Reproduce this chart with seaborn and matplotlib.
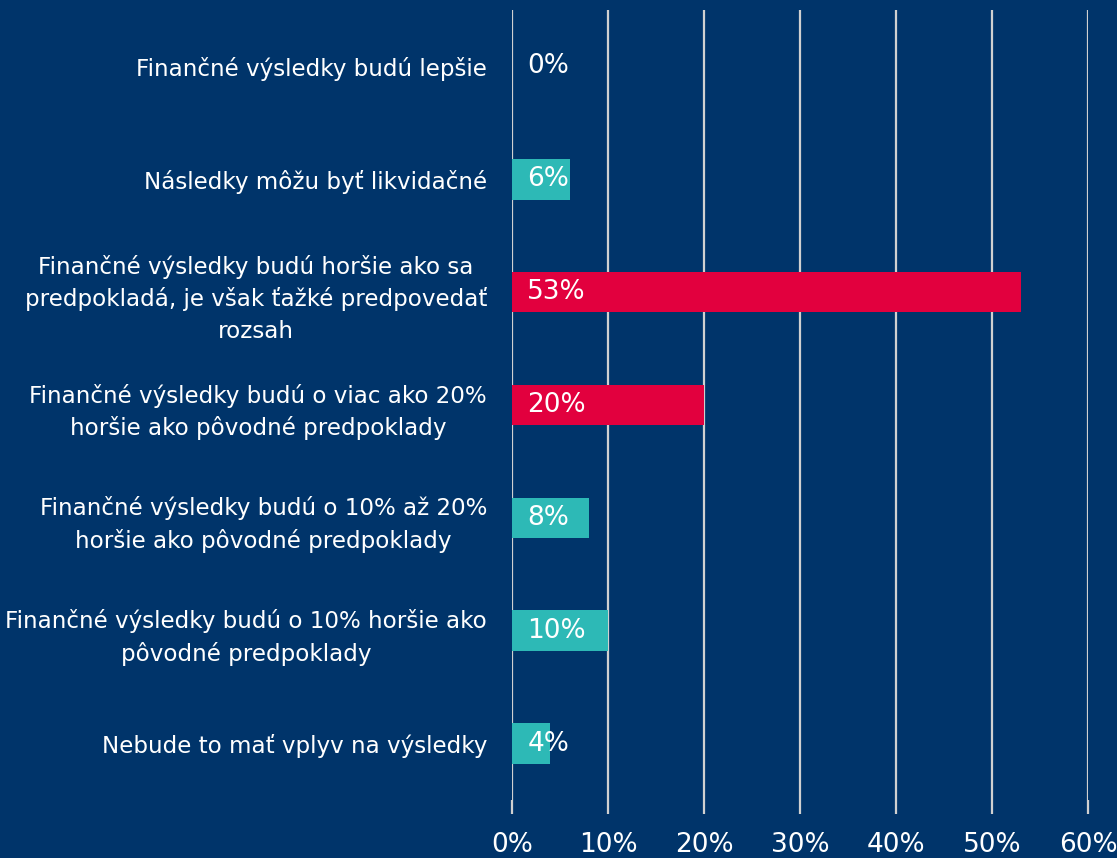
import numpy as np
import pandas as pd
import seaborn as sns
import matplotlib.pyplot as plt

# data (top -> bottom)
labels = [
    "Finančné výsledky budú lepšie",
    "Následky môžu byť likvidačné",
    "Finančné výsledky budú horšie ako sa\npredpokladá, je však ťažké predpovedať\nrozsah",
    "Finančné výsledky budú o viac ako 20%\nhoršie ako pôvodné predpoklady",
    "Finančné výsledky budú o 10% až 20%\nhoršie ako pôvodné predpoklady",
    "Finančné výsledky budú o 10% horšie ako\npôvodné predpoklady",
    "Nebude to mať vplyv na výsledky",
]
values = [0, 6, 53, 20, 8, 10, 4]
ticks = [0, 10, 20, 30, 40, 50, 60]

bg = "#00346A"
teal = "#2DB9B6"
red = "#E2003E"
colors = [red if v >= 20 else teal for v in values]

sns.set_theme(style="white")
plt.rcParams['font.family'] = ['DejaVu Sans']

df = pd.DataFrame({"label": labels, "value": values})

fig = plt.figure(figsize=(11.17, 8.58), dpi=100, facecolor=bg)
ax = fig.add_axes([512 / 1117, 58 / 858, 576 / 1117, 790 / 858])
ax.set_facecolor(bg)

sns.barplot(data=df, x="value", y="label", hue="label", palette=colors,
            orient="h", width=0.36, legend=False, ax=ax, saturation=1,
            linewidth=0, edgecolor="none")

ax.set_xlim(0, 60)
ax.set_ylim(6.5, -0.5)
ax.set_xticks(ticks)
ax.set_xticklabels([f"{t}%" for t in ticks])
ax.set_xlabel("")
ax.set_ylabel("")

for t in ticks:
    ax.axvline(t, color="#D0D0D0", lw=1.6, zorder=0)

for s in ax.spines.values():
    s.set_visible(False)

ax.tick_params(axis="x", bottom=True, colors="#D0D0D0", length=10, width=1.6,
               pad=13, labelcolor="white", labelsize=19)
ax.tick_params(axis="y", left=False, length=0, pad=18, labelcolor="white",
               labelsize=16.6)
for lab in ax.get_yticklabels():
    lab.set_multialignment("center")
    lab.set_linespacing(1.45)

for i, v in enumerate(values):
    ax.annotate(f"{v}%", xy=(0, i), xytext=(11, 0), textcoords="offset points",
                ha="left", va="center", color="white", fontsize=19)

fig.savefig("out.png", dpi=100, facecolor=bg)
